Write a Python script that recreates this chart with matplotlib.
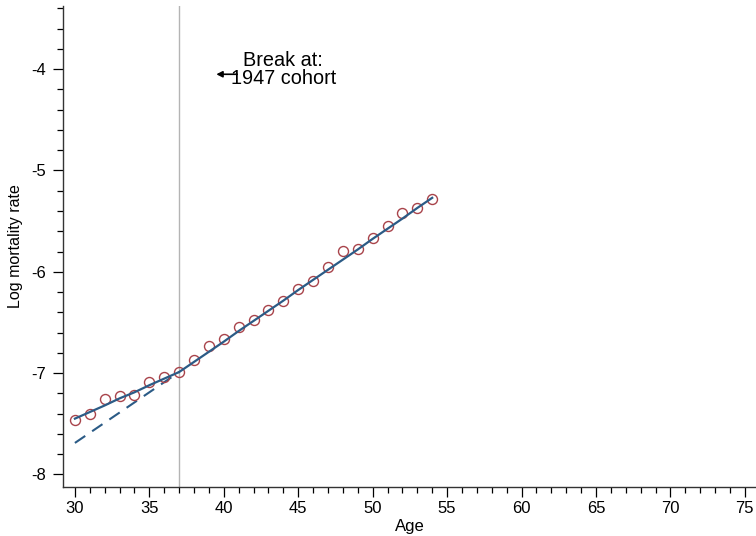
import matplotlib
matplotlib.use("Agg")
import matplotlib.pyplot as plt
from matplotlib.ticker import MultipleLocator

plt.rcParams['font.family'] = ['Liberation Sans', 'DejaVu Sans']
plt.rcParams['axes.unicode_minus'] = False

# Observed log mortality by age
ages = [30, 31, 32, 33, 34, 35, 36, 37, 38, 39, 40, 41, 42, 43, 44,
        45, 46, 47, 48, 49, 50, 51, 52, 53, 54]
log_mort = [-7.46, -7.40, -7.26, -7.23, -7.22, -7.09, -7.04, -6.99, -6.87,
            -6.73, -6.66, -6.55, -6.48, -6.38, -6.29, -6.17, -6.09, -5.95,
            -5.79, -5.78, -5.67, -5.55, -5.42, -5.37, -5.28]

# Fitted trend with a break at age 37
fit = [-7.45, -7.385, -7.32, -7.25, -7.19, -7.12, -7.055, -6.99, -6.89,
       -6.79, -6.69, -6.585, -6.485, -6.385, -6.285, -6.18, -6.08, -5.98,
       -5.88, -5.78, -5.675, -5.575, -5.475, -5.37, -5.27]

# Post-break trend projected back to younger ages
proj_ages = [30, 31, 32, 33, 34, 35, 36, 37]
proj = [-7.69, -7.59, -7.49, -7.39, -7.29, -7.19, -7.09, -6.99]

break_age = 37
xticks = [30, 35, 40, 45, 50, 55, 60, 65, 70, 75]
yticks = [-8, -7, -6, -5, -4]

fig = plt.figure(figsize=(7.56, 5.36), dpi=100)
ax = fig.add_axes([63 / 756, 1 - 487 / 536, 1 - 63 / 756, (487 - 6) / 536])

ax.axvline(break_age, color='#b4b4b4', lw=1.0, zorder=1)
ax.plot(ages, log_mort, linestyle='none', marker='o', ms=7.2,
        mfc='none', mec='#a8434a', mew=1.0, zorder=3)
ax.plot(proj_ages, proj, color='#2b5b86', lw=1.5, ls=(0, (6, 4)), zorder=2)
ax.plot(ages, fit, color='#2b5b86', lw=1.6, zorder=4)

ax.text(44.0, -4.0, 'Break at:\n1947 cohort', ha='center', va='center',
        fontsize=14.3, linespacing=0.92)
ax.annotate('', xy=(39.5, -4.05), xytext=(40.9, -4.05),
            arrowprops=dict(arrowstyle='-|>,head_length=0.35,head_width=0.18',
                            color='black', lw=1.2, shrinkA=0, shrinkB=0))

ax.set_xlim(29.2, 75.75)
ax.set_ylim(-8.125, -3.376)
ax.set_xticks(xticks)
ax.set_yticks(yticks)
ax.xaxis.set_minor_locator(MultipleLocator(1))
ax.yaxis.set_minor_locator(MultipleLocator(0.2))
ax.tick_params(which='major', length=7, width=0.9, labelsize=12)
ax.tick_params(axis='x', which='major', pad=3)
ax.tick_params(axis='y', which='major', pad=5)
ax.tick_params(which='minor', length=4, width=0.9)

for s in ['top', 'right']:
    ax.spines[s].set_visible(False)
for s in ['left', 'bottom']:
    ax.spines[s].set_linewidth(1.0)
    ax.spines[s].set_color('#333333')

ax.set_xlabel('Age', fontsize=12, labelpad=2)
ax.set_ylabel('Log mortality rate', fontsize=11.5, labelpad=6)

fig.savefig('out.png', dpi=100)
